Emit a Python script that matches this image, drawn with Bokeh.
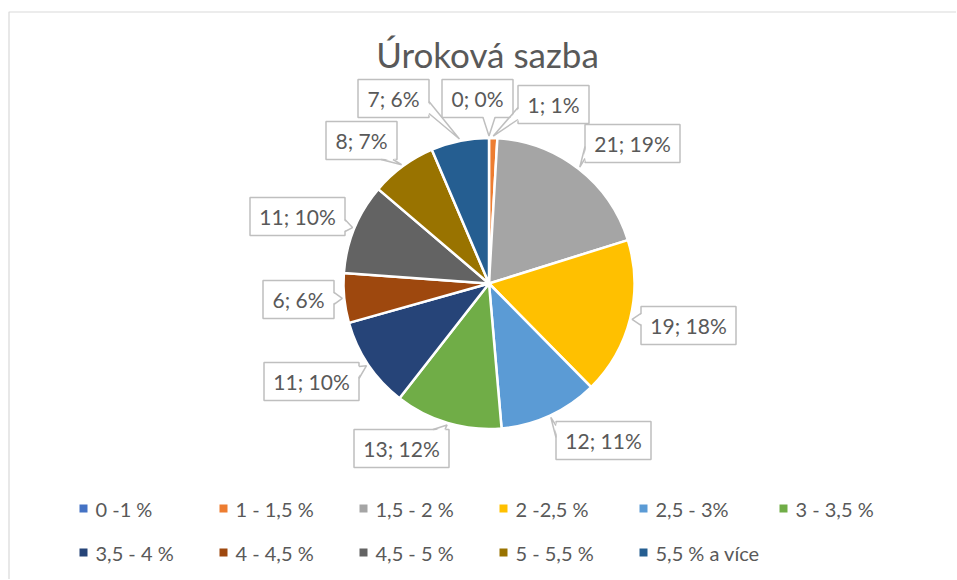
import math
from bokeh.plotting import figure
from bokeh.models import Range1d, ColumnDataSource
from bokeh.core.properties import value
from bokeh.embed import file_html
from bokeh.resources import INLINE

# ---------------- data ----------------
chart_title = "Úroková sazba"
categories = ["0 -1 %", "1 - 1,5 %", "1,5 - 2 %", "2 -2,5 %", "2,5 - 3%", "3 - 3,5 %",
              "3,5 - 4 %", "4 - 4,5 %", "4,5 - 5 %", "5 - 5,5 %", "5,5 % a více"]
counts = [0, 1, 21, 19, 12, 13, 11, 6, 11, 8, 7]
percents = [0, 1, 19, 18, 11, 12, 10, 6, 10, 7, 6]
colors = ["#4472C4", "#ED7D31", "#A5A5A5", "#FFC000", "#5B9BD5", "#70AD47",
          "#264478", "#9E480E", "#636363", "#997300", "#255E91"]

# ---------------- layout (screen pixels of the page) ----------------
W, H = 956, 579
OX, OY = 0, 0
def X(sx): return sx - OX
def Y(sy): return H + OY - sy

CX, CY, R = 488.5, 283.0, 145.5
label_pos = [(477, 98), (553, 104), (632, 143), (688, 325), (603, 440), (401, 448),
             (311, 381), (298, 299), (297, 216), (361, 140), (393, 98)]
FONT = "Lato"
TXT = "#595959"
BOX = "#BFBFBF"

p = figure(width=W, height=H, output_backend="svg", toolbar_location=None,
           x_range=Range1d(0, W), y_range=Range1d(0, H),
           x_axis_type=None, y_axis_type=None, min_border=0)
p.outline_line_color = None
p.background_fill_color = "white"
p.border_fill_color = "white"

# chart border (partly cropped at right/bottom)
p.quad(left=[X(8.5)], right=[W + 20], top=[Y(11.5)], bottom=[-20],
       fill_color=None, line_color="#D9D9D9", line_width=1.2)

# ---------------- pie ----------------
total = float(sum(counts))
starts, ends, mids = [], [], []
cum = 0.0
for c in counts:
    f = c / total
    starts.append(math.pi / 2 - 2 * math.pi * cum)
    ends.append(math.pi / 2 - 2 * math.pi * (cum + f))
    mids.append(math.pi / 2 - 2 * math.pi * (cum + f / 2))
    cum += f

pie_src = ColumnDataSource(dict(start=starts, end=ends, color=colors, cat=categories))
p.wedge(x=X(CX), y=Y(CY), radius=R, start_angle="start", end_angle="end",
        direction="clock", fill_color="color", line_color="white", line_width=2.5,
        source=pie_src)

# ---------------- callout labels ----------------
texts = [f"{c}; {pc}%" for c, pc in zip(counts, percents)]
bx, by, bw, bh = [], [], [], []
tri_x, tri_y, side_x, side_y = [], [], [], []

def clamp(v, a, b):
    return max(a, min(b, v))

for t, (lx, ly), m in zip(texts, label_pos, mids):
    w = 11 + 12 * len(t)
    h = 38
    left, right, top, bottom = lx - w / 2, lx + w / 2, ly - h / 2, ly + h / 2
    ax = CX + (R + 2) * math.cos(m)
    ay = CY - (R + 2) * math.sin(m)
    dxo = max(left - ax, 0, ax - right)
    dyo = max(top - ay, 0, ay - bottom)
    if dyo >= dxo:
        ey = top if ay < top else bottom
        inward = 2 if ey == top else -2
        cx_ = clamp(ax, left + 10, right - 10)
        b1, b2 = (cx_ - 6, ey), (cx_ + 6, ey)
        i1, i2 = (cx_ - 6, ey + inward), (cx_ + 6, ey + inward)
    else:
        ex = left if ax < left else right
        inward = 2 if ex == left else -2
        cy_ = clamp(ay, top + 10, bottom - 10)
        b1, b2 = (ex, cy_ - 6), (ex, cy_ + 6)
        i1, i2 = (ex + inward, cy_ - 6), (ex + inward, cy_ + 6)
    bx.append(X(lx)); by.append(Y(ly)); bw.append(w); bh.append(h)
    tri_x.append([X(i1[0]), X(ax), X(i2[0])]); tri_y.append([Y(i1[1]), Y(ay), Y(i2[1])])
    side_x.append([X(b1[0]), X(ax), X(b2[0])]); side_y.append([Y(b1[1]), Y(ay), Y(b2[1])])

p.rect(x=bx, y=by, width=bw, height=bh, fill_color="white", line_color=BOX, line_width=1.5)
p.patches(xs=tri_x, ys=tri_y, fill_color="white", line_color=None)
p.multi_line(xs=side_x, ys=side_y, line_color=BOX, line_width=1.5)
p.text(x=bx, y=by, text=texts, text_font=value(FONT), text_font_size="21px",
       text_color=TXT, text_align="center", text_baseline="middle")

# ---------------- title ----------------
p.text(x=[X(487)], y=[Y(53)], text=[chart_title], text_font=value(FONT),
       text_font_size="35px", text_color=TXT, text_align="center", text_baseline="middle")

# ---------------- legend ----------------
lg_x = [X(83 + 140 * (i % 6)) for i in range(len(categories))]
lg_y = [Y(508 + 44 * (i // 6)) for i in range(len(categories))]
p.scatter(x=lg_x, y=lg_y, marker="square", size=8, fill_color=colors, line_color=None)
p.text(x=[v + 12 for v in lg_x], y=lg_y, text=categories, text_font=value(FONT),
       text_font_size="20px", text_color=TXT, text_align="left", text_baseline="middle")

open("out.html", "w").write(file_html(p, INLINE))
